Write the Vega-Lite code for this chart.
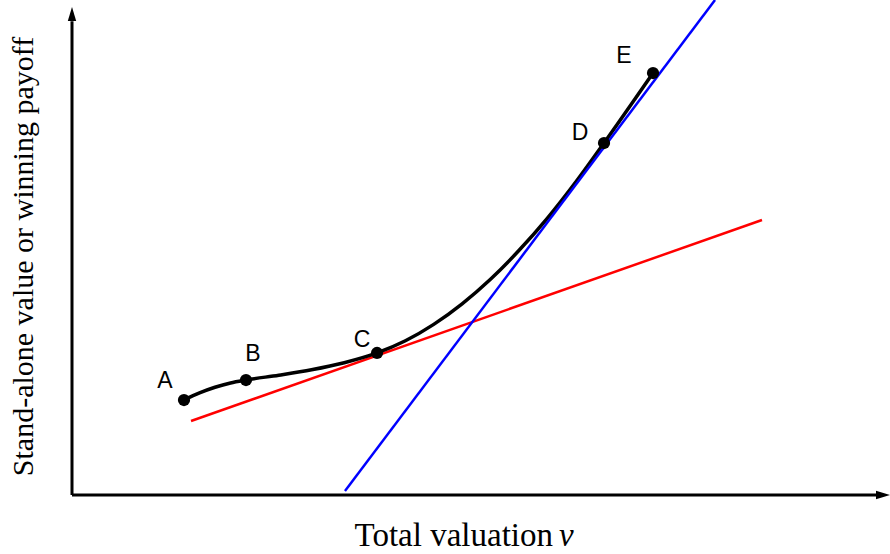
{
  "$schema": "https://vega.github.io/schema/vega-lite/v6.json",
  "width": 818,
  "height": 495,
  "autosize": {"type": "none"},
  "padding": {"left": 72, "top": 0, "right": 0, "bottom": 59},
  "background": "white",
  "config": {"view": {"stroke": null}},
  "datasets": {
    "curve": [
      {"x": 1.369, "y": 1.163}, {"x": 1.559, "y": 1.25}, {"x": 1.748, "y": 1.319},
      {"x": 1.938, "y": 1.372}, {"x": 2.127, "y": 1.408}, {"x": 2.528, "y": 1.467},
      {"x": 2.928, "y": 1.533}, {"x": 3.328, "y": 1.619}, {"x": 3.729, "y": 1.739},
      {"x": 4.076, "y": 1.888}, {"x": 4.422, "y": 2.089}, {"x": 4.769, "y": 2.341},
      {"x": 5.116, "y": 2.642}, {"x": 5.463, "y": 2.993}, {"x": 5.81, "y": 3.387},
      {"x": 6.156, "y": 3.828}, {"x": 6.504, "y": 4.31}, {"x": 7.103, "y": 5.167}
    ],
    "red": [{"x": 1.455, "y": 0.906}, {"x": 8.435, "y": 3.367}],
    "blue": [{"x": 3.337, "y": 0.049}, {"x": 7.861, "y": 6.061}],
    "points": [
      {"x": 1.369, "y": 1.163, "label": "A", "lx": 1.137, "ly": 1.39},
      {"x": 2.127, "y": 1.408, "label": "B", "lx": 2.213, "ly": 1.726},
      {"x": 3.729, "y": 1.739, "label": "C", "lx": 3.545, "ly": 1.898},
      {"x": 6.504, "y": 4.31, "label": "D", "lx": 6.21, "ly": 4.433},
      {"x": 7.103, "y": 5.167, "label": "E", "lx": 6.748, "ly": 5.375}
    ],
    "yaxis": [{"x": 0, "y": 0}, {"x": 0, "y": 5.8}],
    "xaxis": [{"x": 0, "y": 0}, {"x": 9.9, "y": 0}],
    "yarrow": [{"x": 0, "y": 5.975}],
    "xarrow": [{"x": 10, "y": 0}],
    "xtitle": [{"x": 5.88, "y": -0.624, "t": "Total valuation"}],
    "xtitlev": [{"x": 5.954, "y": -0.624, "t": "v"}],
    "ytitle": [{"x": -0.477, "y": 2.92, "t": "Stand-alone value or winning payoff"}]
  },
  "layer": [
    {
      "data": {"name": "red"},
      "mark": {"type": "line", "color": "#ff0000", "strokeWidth": 2.5},
      "encoding": {
        "x": {"field": "x", "type": "quantitative", "scale": {"domain": [0, 10], "nice": false, "zero": false}, "axis": null},
        "y": {"field": "y", "type": "quantitative", "scale": {"domain": [0, 6.061], "nice": false, "zero": false}, "axis": null}
      }
    },
    {
      "data": {"name": "curve"},
      "mark": {"type": "line", "color": "black", "strokeWidth": 3.5, "interpolate": "monotone"},
      "encoding": {
        "x": {"field": "x", "type": "quantitative"},
        "y": {"field": "y", "type": "quantitative"}
      }
    },
    {
      "data": {"name": "blue"},
      "mark": {"type": "line", "color": "#0000ff", "strokeWidth": 2.5},
      "encoding": {
        "x": {"field": "x", "type": "quantitative"},
        "y": {"field": "y", "type": "quantitative"}
      }
    },
    {
      "data": {"name": "points"},
      "mark": {"type": "point", "filled": true, "color": "black", "opacity": 1, "size": 150},
      "encoding": {
        "x": {"field": "x", "type": "quantitative"},
        "y": {"field": "y", "type": "quantitative"}
      }
    },
    {
      "data": {"name": "points"},
      "mark": {"type": "text", "font": "Liberation Sans", "fontSize": 23, "color": "black", "align": "center", "baseline": "middle"},
      "encoding": {
        "x": {"field": "lx", "type": "quantitative"},
        "y": {"field": "ly", "type": "quantitative"},
        "text": {"field": "label"}
      }
    },
    {
      "data": {"name": "yaxis"},
      "mark": {"type": "line", "color": "black", "strokeWidth": 3, "clip": false},
      "encoding": {
        "x": {"field": "x", "type": "quantitative"},
        "y": {"field": "y", "type": "quantitative"}
      }
    },
    {
      "data": {"name": "xaxis"},
      "mark": {"type": "line", "color": "black", "strokeWidth": 3, "clip": false},
      "encoding": {
        "x": {"field": "x", "type": "quantitative"},
        "y": {"field": "y", "type": "quantitative"}
      }
    },
    {
      "data": {"name": "yarrow"},
      "mark": {"type": "point", "shape": "M0,0L0.3,1L-0.3,1Z", "filled": true, "color": "black", "opacity": 1, "size": 784, "clip": false},
      "encoding": {
        "x": {"field": "x", "type": "quantitative"},
        "y": {"field": "y", "type": "quantitative"}
      }
    },
    {
      "data": {"name": "xarrow"},
      "mark": {"type": "point", "shape": "M0,0L-1,-0.3L-1,0.3Z", "filled": true, "color": "black", "opacity": 1, "size": 784, "clip": false},
      "encoding": {
        "x": {"field": "x", "type": "quantitative"},
        "y": {"field": "y", "type": "quantitative"}
      }
    },
    {
      "data": {"name": "xtitle"},
      "mark": {"type": "text", "font": "Liberation Serif", "fontSize": 33, "color": "black", "align": "right", "baseline": "alphabetic"},
      "encoding": {
        "x": {"field": "x", "type": "quantitative"},
        "y": {"field": "y", "type": "quantitative"},
        "text": {"field": "t"}
      }
    },
    {
      "data": {"name": "xtitlev"},
      "mark": {"type": "text", "font": "Liberation Serif", "fontSize": 33, "fontStyle": "italic", "color": "black", "align": "left", "baseline": "alphabetic"},
      "encoding": {
        "x": {"field": "x", "type": "quantitative"},
        "y": {"field": "y", "type": "quantitative"},
        "text": {"field": "t"}
      }
    },
    {
      "data": {"name": "ytitle"},
      "mark": {"type": "text", "font": "Liberation Serif", "fontSize": 30, "color": "black", "align": "center", "baseline": "alphabetic", "angle": 270},
      "encoding": {
        "x": {"field": "x", "type": "quantitative"},
        "y": {"field": "y", "type": "quantitative"},
        "text": {"field": "t"}
      }
    }
  ]
}
